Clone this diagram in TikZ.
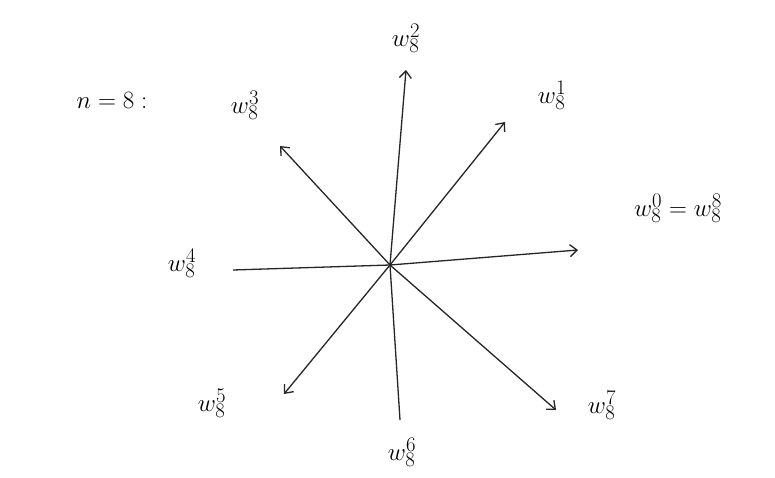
\documentclass[tikz,border=0pt]{standalone}
\usetikzlibrary{arrows.meta}
\begin{document}
\begin{tikzpicture}[x=1pt,y=-1pt,
  ray/.style={line width=1.3pt,draw=black!85,-{Straight Barb[length=7pt,width=12pt]}},
  plain/.style={line width=1.3pt,draw=black!85},
  lbl/.style={font=\fontsize{28}{30}\selectfont,inner sep=1pt}]
\fill[white] (0,0) rectangle (775,478);
\useasboundingbox (0,0) rectangle (775,478);
\coordinate (O) at (390,265);
\coordinate (L) at (233,270);
\coordinate (R) at (578,250);
\coordinate (B) at (400,420);
\coordinate (T) at (406,70);
\coordinate (UL) at (280,146);
\coordinate (UR) at (505,122);
\coordinate (DL) at (284,394);
\coordinate (DR) at (556,410);
\draw[plain] (L) -- (O);
\draw[ray] (O) -- (R);
\draw[plain] (B) -- (O);
\draw[ray] (O) -- (T);
\draw[ray] (O) -- (UL);
\draw[ray] (O) -- (UR);
\draw[ray] (O) -- (DL);
\draw[ray] (O) -- (DR);
\node[font=\fontsize{36}{38}\selectfont] (n) at (112,100) {$n=8:$};
\node[lbl] (w2) at (406,38) {$w_8^2$};
\node[lbl] (w3) at (245,105) {$w_8^3$};
\node[lbl] (w1) at (552,95) {$w_8^1$};
\node[lbl] (w0) at (678,208) {$w_8^0=w_8^8$};
\node[lbl] (w4) at (182,263) {$w_8^4$};
\node[lbl] (w5) at (212,403) {$w_8^5$};
\node[lbl] (w6) at (402,452) {$w_8^6$};
\node[lbl] (w7) at (602,405) {$w_8^7$};
\end{tikzpicture}
\end{document}
